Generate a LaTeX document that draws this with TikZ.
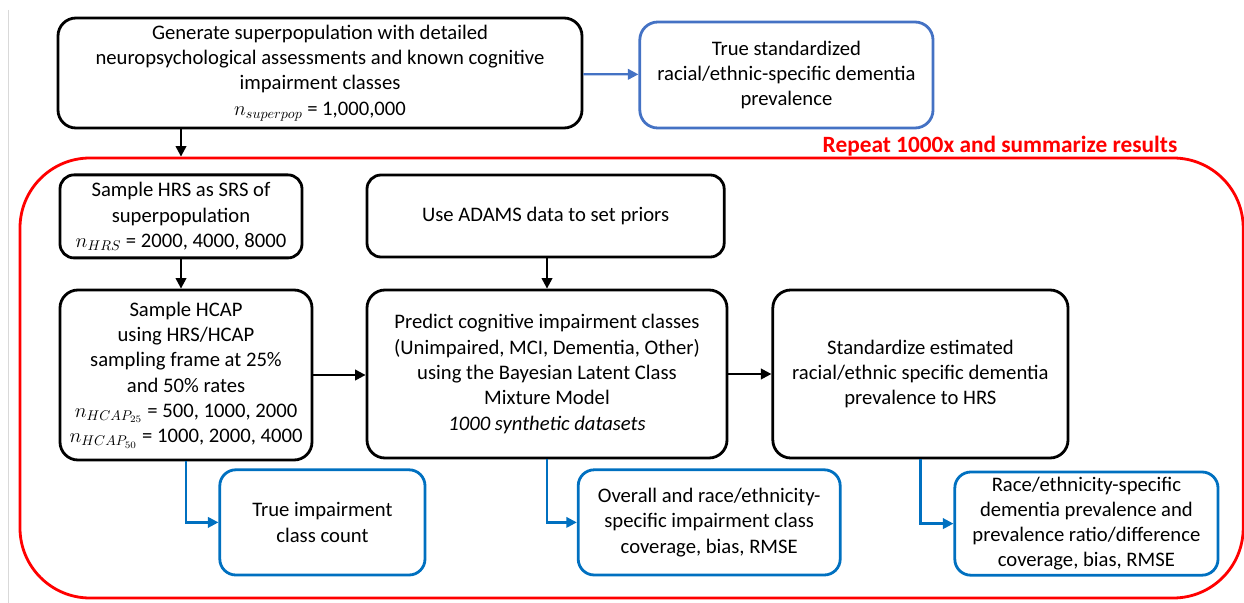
\documentclass[tikz,border=0pt]{standalone}
\usepackage{fontspec}
\setmainfont{Carlito}
\usetikzlibrary{arrows.meta,positioning,calc}
\definecolor{topblue}{RGB}{68,114,196}
\definecolor{outblue}{RGB}{0,112,192}
\definecolor{loopred}{RGB}{255,0,0}
\tikzset{every picture/.style={line width=1.6pt}}
\tikzset{
  stepbox/.style={draw=black, line width=2pt, rounded corners=0.45cm, align=center, inner sep=1pt},
  resbox/.style={draw=outblue, line width=2pt, rounded corners=0.4cm, align=center, inner sep=1pt},
  flow/.style={-{Triangle[length=7.5pt,width=7.5pt]}, line width=1.6pt},
}

\begin{document}
\begin{tikzpicture}[every node/.style={font=\fontsize{14.7}{18}\selectfont}]
    \useasboundingbox (0,0) rectangle (31.1,-15.075);
    \draw[line width=0.6pt, black!15] (0.22,-0.25) -- (0.22,-15.075);
    % repeat frame
    \node[draw=loopred, line width=2pt, rounded corners=1.75cm, minimum width=30.58cm, minimum height=11cm] (rep) at (15.79,-9.45) {};
    \node[text=loopred, font=\fontsize{16.6}{19}\selectfont\bfseries] (replab) at (25.0,-3.65) {Repeat 1000x and summarize results};
    % top row
    \node[stepbox, minimum width=13.1cm, minimum height=2.75cm] (gen) at (8.0,-1.825) {Generate superpopulation with detailed\\ neuropsychological assessments and known cognitive\\ impairment classes\\ $n_{superpop}$ = 1,000,000};
    \node[stepbox, draw=topblue, minimum width=7.33cm, minimum height=2.65cm] (truestd) at (19.66,-1.875) {True standardized\\ racial/ethnic-specific dementia\\ prevalence};
    % inside the loop
    \node[stepbox, rounded corners=0.35cm, minimum width=6.05cm, minimum height=2.075cm] (hrs) at (4.525,-5.41) {Sample HRS as SRS of\\ superpopulation\\ $n_{HRS}$ = 2000, 4000, 8000};
    \node[stepbox, minimum width=6.3cm, minimum height=4.25cm] (hcap) at (4.65,-9.375) {Sample HCAP\\ using HRS/HCAP\\ sampling frame at 25\%\\ and 50\% rates\\ $n_{HCAP_{25}}$ = 500, 1000, 2000\\ $n_{HCAP_{50}}$ = 1000, 2000, 4000};
    \node[stepbox, rounded corners=0.35cm, minimum width=8.93cm, minimum height=2.05cm] (adams) at (13.64,-5.4) {Use ADAMS data to set priors};
    \node[stepbox, minimum width=9cm, minimum height=4.2cm] (pred) at (13.675,-9.35) {Predict cognitive impairment classes\\ (Unimpaired, MCI, Dementia, Other)\\ using the Bayesian Latent Class\\ Mixture Model\\ \textit{1000 synthetic datasets}};
    \node[stepbox, minimum width=7.38cm, minimum height=4.2cm] (std) at (23.01,-9.35) {Standardize estimated\\ racial/ethnic specific dementia\\ prevalence to HRS};
    % outputs
    \node[resbox, minimum width=5.13cm, minimum height=2.63cm] (trueimp) at (8.06,-13.06) {True impairment\\ class count};
    \node[resbox, minimum width=6.55cm, minimum height=2.63cm] (overall) at (17.73,-13.06) {Overall and race/ethnicity-\\ specific impairment class\\ coverage, bias, RMSE};
    \node[resbox, minimum width=6.58cm, minimum height=2.58cm] (race) at (27.16,-13.09) {Race/ethnicity-specific\\ dementia prevalence and\\ prevalence ratio/difference\\ coverage, bias, RMSE};

    \draw[flow, topblue] (gen) -- (truestd);
    \draw[flow] (gen.south -| hrs.north) -- (hrs.north |- rep.north);
    \draw[flow] (hrs) -- (hrs.south |- hcap.north);
    \draw[flow] (adams.south -| pred.north) -- (pred);
    \draw[flow] (hcap) -- (hcap -| pred.west);
    \draw[flow] (pred) -- (std);
    \draw[flow, outblue] (hcap.south) |- (trueimp);
    \draw[flow, outblue] (pred.south) |- (overall);
    \draw[flow, outblue] (std.south) |- (race);
\end{tikzpicture}
\end{document}
